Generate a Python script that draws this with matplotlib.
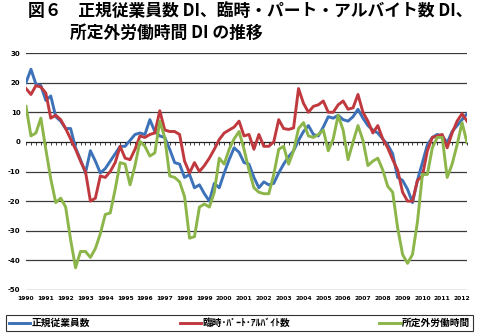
import numpy as np
import matplotlib
matplotlib.use("Agg")
import matplotlib.pyplot as plt

plt.rcParams["font.family"] = ["Noto Sans CJK JP", "DejaVu Sans"]

# quarterly DI, 1990Q1 .. 2012Q2
years = list(range(1990, 2013))
regular = [20, 24.5, 19.5, 19, 14, 15.5, 8.5, 7, 4.5, 4.5,
           -2, -6, -10.5, -3, -6.5, -10.5, -9, -6.5, -4, -1.5,
           -1.5, 0.5, 2.5, 3, 2.5, 7.5, 3.5, 2, 1.5, -2.5,
           -7, -7.5, -12, -11, -15.5, -14.5, -17.5, -20, -14, -15.5,
           -10.5, -6, -2, -3.5, -7, -7.5, -12, -15.5, -13.5, -14.5,
           -14, -10.5, -7.5, -5, -3, 0.5, 3.5, 5.5, 2.5, 2,
           5, 8.5, 8, 9, 7.5, 7, 8.5, 11, 8, 5.5,
           4, 3, 1, -1, -4, -12, -13, -16, -20.5, -13,
           -7, -1, 1.5, 2.5, 2, -0.3, 3.5, 5.5, 7.5, 9.5]
parttime = [18, 16, 19, 18.5, 16.5, 8, 9, 7.5, 4.5, 1,
            -2.5, -6.5, -10, -20, -19, -11.5, -12, -10, -7, -1.5,
            -5.5, -6, -2.5, 2, 1.5, 2.5, 3, 10.5, 4, 3.5,
            3.5, 2.5, -6.5, -10.5, -7, -10, -8, -5.5, -2.5, 0.8,
            3, 4, 5, 7, 2, 2.5, -2.5, 2.5, -1.5, -1.5,
            0, 7.5, 4.5, 4.2, 4.7, 18, 13, 10, 12, 12.5,
            13.8, 10, 10, 12.5, 13.8, 11, 11.5, 16, 10, 7,
            3, 5.5, 1, -2, -6, -9.5, -17, -20, -20, -13,
            -11.5, -3, 1.5, 2, 2.5, -2, 3, 7, 9.5, 7]
overtime = [12, 2, 3, 8, -2.5, -12.5, -20.5, -19, -22, -33,
            -42.5, -37, -37, -39, -36, -31, -24.5, -24, -16, -7,
            -7.5, -14.5, -8, 0.2, -1.5, -4.8, -3.7, 7, 1.5, -11.5,
            -12, -13.5, -18.5, -32.5, -32, -22, -21, -22, -17, -5.5,
            -7.5, -2.5, 1, 3.5, -2.5, -9.5, -15.5, -17, -17.5, -17.5,
            -11, -2.5, -1.5, -7.5, -3, 4.5, 6.5, 2, 1.5, 2.5,
            4, -3, 1, 9, 4, -6, 0, 5.5, 0.5, -8,
            -6.5, -5.5, -9.5, -15, -17, -29, -38, -41, -38, -27,
            -11, -11, -2, 1.5, 1.5, -12, -7.5, -1, 6.5, -0.3]
labels = ["正規従業員数", "臨時･ﾊﾟｰﾄ･ｱﾙﾊﾞｲﾄ数", "所定外労働時間"]
colors = ["#3d72b8", "#c0393f", "#8cb54a"]

fig = plt.figure(figsize=(4.83, 3.36), dpi=100)
ax = fig.add_axes([26 / 483, 1 - 290 / 336, 441 / 483, 237 / 336])

x = np.arange(len(regular))
for series, lab, col in zip([regular, parttime, overtime], labels, colors):
    ax.plot(x, series, color=col, lw=2.1, label=lab, solid_joinstyle="round")

ax.set_xlim(0, len(regular) - 1)
ax.set_ylim(-50, 30)
yt = list(range(-50, 31, 10))
ax.set_yticks(yt)
ax.set_yticklabels([str(v) for v in yt], fontsize=5, fontweight="bold",
                   family=["DejaVu Sans"])
for v in yt:
    if v != 0:
        ax.axhline(v, color="#3a3a3a", lw=0.9, zorder=0)
ax.axhline(0, color="#222222", lw=0.9, zorder=0)
ax.set_xticks(np.arange(0, len(regular), 4))
ax.set_xticklabels([str(y) for y in years], fontsize=4.3, fontweight="bold",
                   family=["DejaVu Sans"])
ax.tick_params(axis="both", length=0, pad=4)
for s in ax.spines.values():
    s.set_visible(False)

# quarter ticks on the zero line
sec = ax.secondary_xaxis(50 / 80)
sec.set_xticks(x)
sec.tick_params(axis="x", direction="out", length=2, width=0.6,
                labelbottom=False, labeltop=False, bottom=True, top=False,
                color="#222222")
sec.spines["bottom"].set_visible(False)
sec.spines["top"].set_visible(False)

fig.text(28 / 483, 1 - 3 / 336, "図６　正規従業員数 DI、臨時・パート・アルバイト数 DI、",
         fontsize=12.1, fontweight="bold", va="top", ha="left")
fig.text(70 / 483, 1 - 24 / 336, "所定外労働時間 DI の推移",
         fontsize=12.1, fontweight="bold", va="top", ha="left")

leg = fig.legend(loc="lower left", bbox_to_anchor=(6 / 483, 5 / 336, 467 / 483, 19 / 336),
                 ncol=3, mode="expand", frameon=True, fancybox=False,
                 prop={"size": 7, "weight": "bold"}, handlelength=2.2,
                 handletextpad=0.1, borderaxespad=0, borderpad=0.3)
leg.get_frame().set_edgecolor("#000000")
leg.get_frame().set_linewidth(0.8)

fig.savefig("out.png", dpi=100)
